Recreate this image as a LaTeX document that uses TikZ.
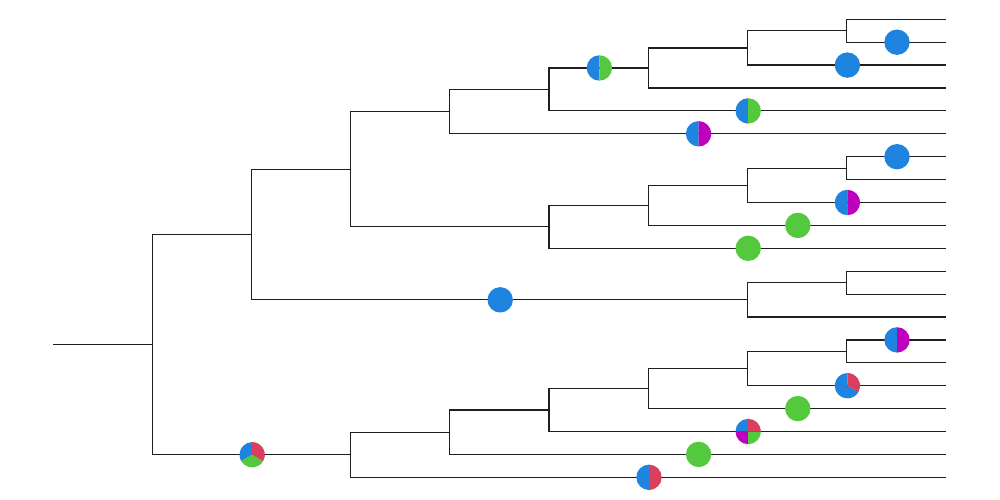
\documentclass[tikz,border=0pt]{standalone}
\usetikzlibrary{calc}
\definecolor{pblue}{HTML}{1F83E0}
\definecolor{pgreen}{HTML}{55C93D}
\definecolor{pred}{HTML}{D9405E}
\definecolor{pmag}{HTML}{BC00BC}
\begin{document}
\begin{tikzpicture}[x=1pt,y=1pt,
  branch/.style={draw=black!88, line width=1.2pt, line join=miter},
  pics/pie/.style={code={
    \foreach \a/\b/\c in {#1} {
      \fill[\c] (0.8,0) -- ++(\a:12.7) arc[start angle=\a, end angle=\b, radius=12.7] -- cycle;
    }}}]
\useasboundingbox (0,0) rectangle (1000,-500);

% leaves
\foreach \i/\y in {1/19.3,2/42.2,3/65.1,4/88.0,5/110.9,6/133.8,7/156.7,
                   8/179.6,9/202.5,10/225.4,11/248.3,12/271.2,13/294.1,
                   14/317.0,15/339.9,16/362.8,17/385.7,18/408.6,19/431.5,
                   20/454.4,21/477.3}
  \coordinate (l\i) at (945.8,-\y);

% internal nodes
\coordinate (r0) at (53,-344.64);
\coordinate (A) at (152.2,-344.64);
\coordinate (B) at (251.4,-234.52);
\coordinate (C) at (350.6,-169.22);
\coordinate (D) at (449.8,-111.62);
\coordinate (F) at (549.0,-89.43);
\coordinate (G) at (648.2,-67.96);
\coordinate (H) at (747.4,-47.93);
\coordinate (I) at (846.6,-30.75);
\coordinate (E) at (549.0,-226.83);
\coordinate (J) at (648.2,-205.36);
\coordinate (K) at (747.4,-185.33);
\coordinate (M) at (846.6,-168.15);
\coordinate (N) at (747.4,-299.83);
\coordinate (O) at (846.6,-282.65);
\coordinate (Q) at (350.6,-454.76);
\coordinate (R) at (449.8,-432.22);
\coordinate (S) at (549.0,-410.03);
\coordinate (T) at (648.2,-388.56);
\coordinate (U) at (747.4,-368.53);
\coordinate (V) at (846.6,-351.35);

% branches
\draw[branch] (r0) -- (A);
\foreach \p/\c in {A/B,A/Q,B/C,B/N,C/D,C/E,D/F,D/l6,F/G,F/l5,G/H,G/l4,
                   H/I,H/l3,I/l1,I/l2,E/J,E/l11,J/K,J/l10,K/M,K/l9,
                   M/l7,M/l8,N/O,N/l14,O/l12,O/l13,Q/R,Q/l21,R/S,R/l20,
                   S/T,S/l19,T/U,T/l18,U/V,U/l17,V/l15,V/l16}
  \draw[branch] (\p) |- (\c);

% state pies at branch midpoints
\pic at ($(F |- G)!.5!(G)$) {pie={90/270/pblue,-90/90/pgreen}};
\pic at ($(I |- l2)!.5!(l2)$) {pie={0/360/pblue}};
\pic at ($(H |- l3)!.5!(l3)$) {pie={0/360/pblue}};
\pic at ($(F |- l5)!.5!(l5)$) {pie={90/270/pblue,-90/90/pgreen}};
\pic at ($(D |- l6)!.5!(l6)$) {pie={90/270/pblue,-90/90/pmag}};
\pic at ($(M |- l7)!.5!(l7)$) {pie={0/360/pblue}};
\pic at ($(K |- l9)!.5!(l9)$) {pie={90/270/pblue,-90/90/pmag}};
\pic at ($(J |- l10)!.5!(l10)$) {pie={0/360/pgreen}};
\pic at ($(E |- l11)!.5!(l11)$) {pie={0/360/pgreen}};
\pic at ($(B |- N)!.5!(N)$) {pie={0/360/pblue}};
\pic at ($(V |- l15)!.5!(l15)$) {pie={90/270/pblue,-90/90/pmag}};
\pic at ($(U |- l17)!.5!(l17)$) {pie={90/330/pblue,-30/90/pred}};
\pic at ($(T |- l18)!.5!(l18)$) {pie={0/360/pgreen}};
\pic at ($(S |- l19)!.5!(l19)$) {pie={90/180/pblue,180/270/pmag,270/360/pgreen,0/90/pred}};
\pic at ($(R |- l20)!.5!(l20)$) {pie={0/360/pgreen}};
\pic at ($(Q |- l21)!.5!(l21)$) {pie={90/270/pblue,-90/90/pred}};
\pic at ($(A |- Q)!.5!(Q)$) {pie={90/210/pblue,210/330/pgreen,-30/90/pred}};
\end{tikzpicture}
\end{document}
